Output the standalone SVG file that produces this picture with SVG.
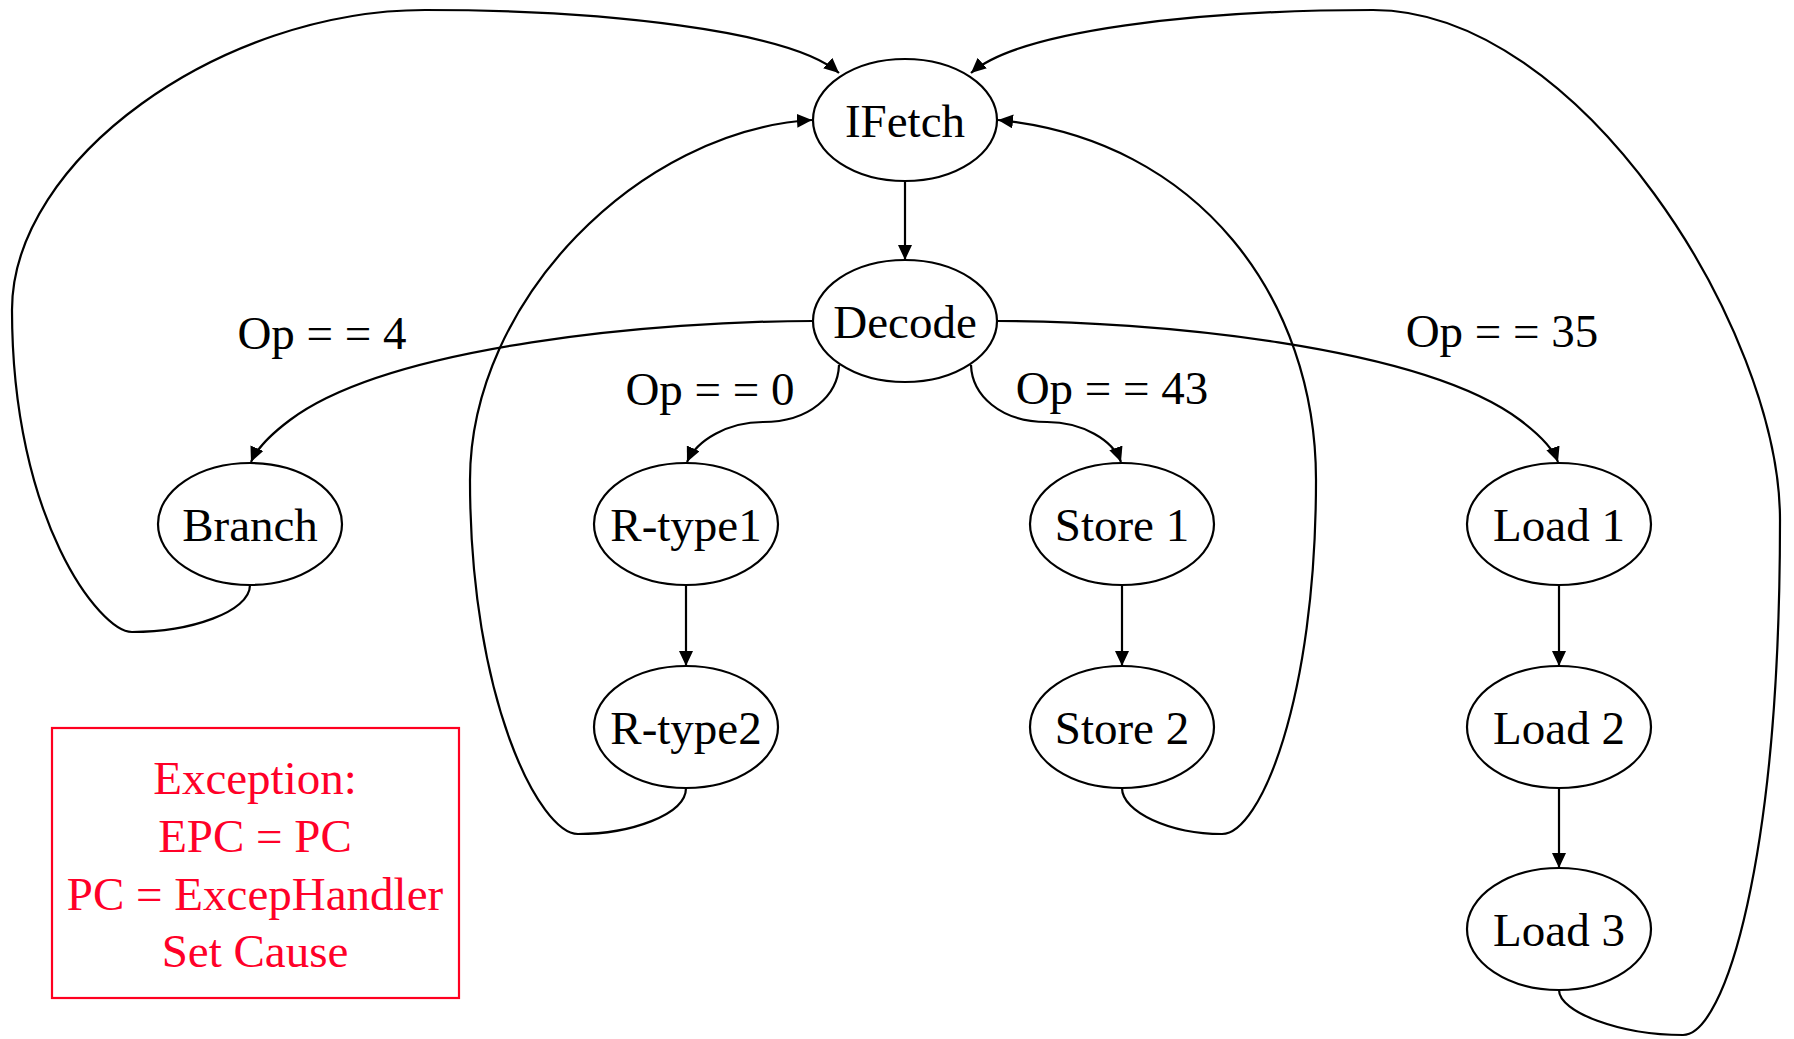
<svg xmlns="http://www.w3.org/2000/svg" width="1794" height="1039" viewBox="0 0 1794 1039">
  <defs>
    <marker id="arrow" markerUnits="userSpaceOnUse" markerWidth="16" markerHeight="14" refX="15" refY="7" orient="auto">
      <path d="M0,0 L15,7 L0,14 z" fill="#000"/>
    </marker>
    <style>
      .node ellipse { fill: #fff; stroke: #000; stroke-width: 2.2; }
      .node text, .lbl { font-family: "Liberation Serif", "Times New Roman", serif; font-size: 47px; fill: #000; text-anchor: middle; }
      .edge { fill: none; stroke: #000; stroke-width: 2.2; marker-end: url(#arrow); }
      .note rect { fill: #fff; stroke: #ff0020; stroke-width: 2.2; }
      .note text { font-family: "Liberation Serif", "Times New Roman", serif; font-size: 47px; fill: #ff0028; text-anchor: middle; }
    </style>
  </defs>
  <rect width="1794" height="1039" fill="#fff"/>

  <!-- connectors -->
  <g id="edges">
    <path class="edge" d="M905,181 L905,260"/>
    <!-- Decode to first-cycle states -->
    <path class="edge" d="M813,321 C660,321 390,345 290,420 C270,435 257,448 251,462"/>
    <path class="edge" d="M839,365 C838,395 810,422 763,422 C728,422 697,440 687,462"/>
    <path class="edge" d="M971,365 C972,395 1000,422 1047,422 C1082,422 1113,440 1121,462"/>
    <path class="edge" d="M997,321 C1150,321 1420,345 1520,420 C1540,435 1553,448 1558,462"/>
    <!-- sequential steps -->
    <path class="edge" d="M686,585 L686,666"/>
    <path class="edge" d="M1122,585 L1122,666"/>
    <path class="edge" d="M1559,585 L1559,666"/>
    <path class="edge" d="M1559,788 L1559,868"/>
    <!-- returns to IFetch -->
    <path class="edge" d="M250,585 C250,612 190,632 132,632 C100,632 12,520 12,310 C12,160 220,10 425,10 C600,10 790,30 839,73"/>
    <path class="edge" d="M686,788 C686,815 630,834 578,834 C540,834 470,700 470,480 C470,300 640,130 812,120"/>
    <path class="edge" d="M1122,788 C1122,812 1170,834 1222,834 C1260,834 1316,700 1316,480 C1316,300 1200,140 998,120"/>
    <path class="edge" d="M1559,990 C1559,1012 1620,1035 1683,1035 C1725,1035 1780,860 1780,520 C1780,330 1580,10 1373,10 C1200,10 1020,30 971,73"/>
  </g>

  <!-- edge labels -->
  <g id="edge-labels">
    <text class="lbl" x="322" y="349">Op = = 4</text>
    <text class="lbl" x="710" y="405">Op = = 0</text>
    <text class="lbl" x="1112" y="404">Op = = 43</text>
    <text class="lbl" x="1502" y="347">Op = = 35</text>
  </g>

  <g id="IFetch" class="node"><ellipse cx="905" cy="120" rx="92" ry="61"/><text x="905" y="137">IFetch</text></g>
  <g id="Decode" class="node"><ellipse cx="905" cy="321" rx="92" ry="61"/><text x="905" y="338">Decode</text></g>
  <g id="Branch" class="node"><ellipse cx="250" cy="524" rx="92" ry="61"/><text x="250" y="541">Branch</text></g>
  <g id="Rtype1" class="node"><ellipse cx="686" cy="524" rx="92" ry="61"/><text x="686" y="541">R-type1</text></g>
  <g id="Store1" class="node"><ellipse cx="1122" cy="524" rx="92" ry="61"/><text x="1122" y="541">Store 1</text></g>
  <g id="Load1" class="node"><ellipse cx="1559" cy="524" rx="92" ry="61"/><text x="1559" y="541">Load 1</text></g>
  <g id="Rtype2" class="node"><ellipse cx="686" cy="727" rx="92" ry="61"/><text x="686" y="744">R-type2</text></g>
  <g id="Store2" class="node"><ellipse cx="1122" cy="727" rx="92" ry="61"/><text x="1122" y="744">Store 2</text></g>
  <g id="Load2" class="node"><ellipse cx="1559" cy="727" rx="92" ry="61"/><text x="1559" y="744">Load 2</text></g>
  <g id="Load3" class="node"><ellipse cx="1559" cy="929" rx="92" ry="61"/><text x="1559" y="946">Load 3</text></g>

  <g id="Exception" class="note">
    <rect x="52" y="728" width="407" height="270"/>
    <text x="255" y="794">Exception:</text>
    <text x="255" y="852">EPC = PC</text>
    <text x="255" y="910">PC = ExcepHandler</text>
    <text x="255" y="967">Set Cause</text>
  </g>
</svg>
